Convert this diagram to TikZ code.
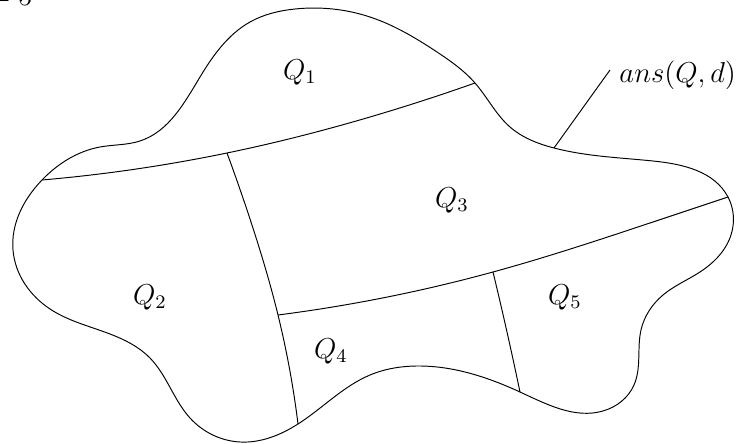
\documentclass[tikz,border=0pt]{standalone}
\usetikzlibrary{hobby}
\begin{document}
\begin{tikzpicture}[x=0.41667pt,y=-0.41667pt,
  lbl/.style={inner sep=0pt, font=\fontsize{12}{14}\selectfont},
  edge/.style={line width=0.4pt},
  hedge/.style={edge, use Hobby shortcut}]
\useasboundingbox (0,0) rectangle (740,444);
% junctions
\coordinate (J1) at (42,180);
\coordinate (J2) at (475,83);
\coordinate (J3) at (298,424);
\coordinate (J4) at (728,197);
\coordinate (J5) at (520,392);
\coordinate (J6) at (554,148);
\coordinate (K1) at (227,153);
\coordinate (K2) at (278,315);
\coordinate (K3) at (493,272);
\coordinate (L) at (610,70);
% outer boundary
\draw[hedge, closed=true] (295,9) .. (370,17) .. (437,52) .. (J2) .. (510,127) .. (J6)
 .. (653,161) .. (J4) .. (731,235) .. (700,272) .. (663,295) .. (641,330) .. (634,385)
 .. (603,411) .. (J5) .. (420,366) .. (370,375) .. (J3) .. (240,442) .. (190,418)
 .. (150,358) .. (110,334) .. (50,309) .. (13,250) .. (J1) .. (100,147) .. (140,141)
 .. (200,77) .. (250,22);
% dividers
\draw[hedge] (J1) .. (K1) .. (370,117) .. (J2);
\draw[hedge] (K1) .. (251,222) .. (K2) .. (J3);
\draw[hedge] (K2) .. (K3) .. (653,222) .. (J4);
\draw[hedge] (K3) .. (507,332) .. (J5);
\draw[edge] (J6) -- (L);
% labels
\node[lbl] (q1) at (300,72) {$Q_1$};
\node[lbl] (q2) at (150,297) {$Q_2$};
\node[lbl] (q3) at (452,200) {$Q_3$};
\node[lbl] (q4) at (331,351) {$Q_4$};
\node[lbl] (q5) at (565,297) {$Q_5$};
\node[lbl, anchor=base west] (ans) at (619,83) {$ans(Q,d)$};
\node[lbl, anchor=base east] (top) at (33,5.5) {$=5$};
\end{tikzpicture}
\end{document}
